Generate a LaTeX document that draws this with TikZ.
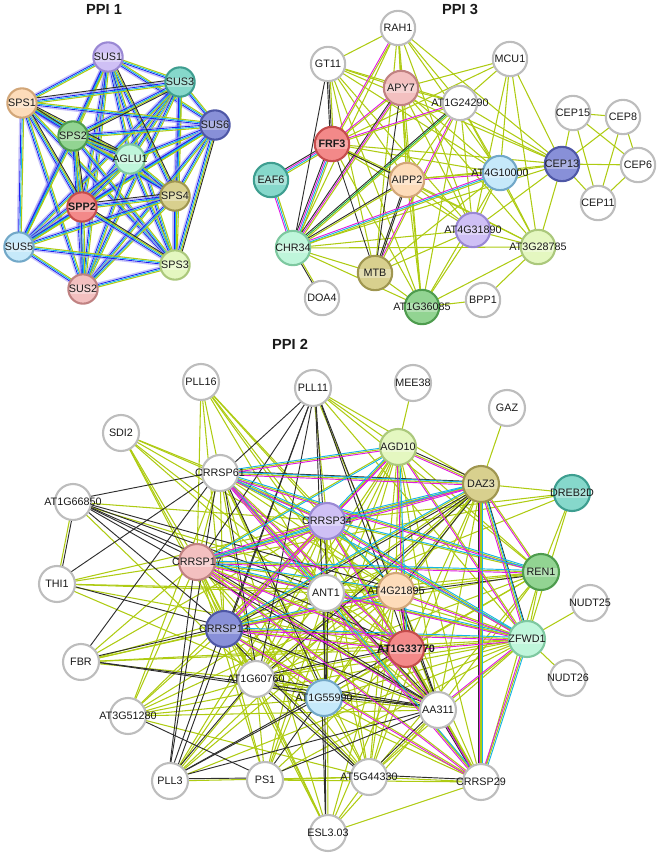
\documentclass[tikz,border=0pt]{standalone}
\usepackage{fontspec}
\setmainfont{Liberation Sans}
\usetikzlibrary{calc}
\pgfdeclarelayer{bg}
\pgfsetlayers{bg,main}
\definecolor{lavF}{HTML}{CFC0F5}\definecolor{lavD}{HTML}{9A88D4}
\definecolor{tealF}{HTML}{86D8CB}\definecolor{tealD}{HTML}{3E9E90}
\definecolor{peachF}{HTML}{FDDCBA}\definecolor{peachD}{HTML}{D2A678}
\definecolor{slateF}{HTML}{8890D8}\definecolor{slateD}{HTML}{4E57A6}
\definecolor{greenF}{HTML}{92D492}\definecolor{greenD}{HTML}{4E9C4E}
\definecolor{mintF}{HTML}{BFF6DB}\definecolor{mintD}{HTML}{7EC8A0}
\definecolor{khakiF}{HTML}{D8D08E}\definecolor{khakiD}{HTML}{9F9650}
\definecolor{redF}{HTML}{F38989}\definecolor{redD}{HTML}{C54C4C}
\definecolor{lblueF}{HTML}{C6E9FA}\definecolor{lblueD}{HTML}{72A8C8}
\definecolor{ygF}{HTML}{E4F7C0}\definecolor{ygD}{HTML}{ABC87C}
\definecolor{pinkF}{HTML}{F3C0C0}\definecolor{pinkD}{HTML}{C08282}
\definecolor{whD}{HTML}{BDBDBD}
\definecolor{limeC}{HTML}{AECB12}
\definecolor{magC}{HTML}{E01AE0}
\definecolor{cyC}{HTML}{15B5E5}
\definecolor{bkC}{HTML}{2E2E2E}
\definecolor{blC}{HTML}{1F1FF0}
\definecolor{lvC}{HTML}{A59CF5}
\definecolor{grC}{HTML}{1AAF3A}
\definecolor{txt}{HTML}{1A1A1A}
\tikzset{
  gn/.style={circle, draw=whD, fill=white, line width=1.8pt, inner sep=0pt,
    font=\fontsize{9.2}{10}\selectfont, text=txt},
  s1/.style={minimum size=0.88cm},
  s3/.style={minimum size=1.03cm},
  s2/.style={minimum size=1.08cm},
  gloss/.style={path picture={\fill[white,opacity=0.3]
     ([yshift=-4pt]path picture bounding box.west) rectangle
     ([yshift=3pt]path picture bounding box.east);}},
  cW/.style={fill=white, draw=whD},
  cLav/.style={fill=lavF, draw=lavD, gloss},
  cTeal/.style={fill=tealF, draw=tealD, gloss},
  cPeach/.style={fill=peachF, draw=peachD, gloss},
  cSlate/.style={fill=slateF, draw=slateD, gloss},
  cGreen/.style={fill=greenF, draw=greenD, gloss},
  cMint/.style={fill=mintF, draw=mintD, gloss},
  cKhaki/.style={fill=khakiF, draw=khakiD, gloss},
  cRed/.style={fill=redF, draw=redD, gloss},
  cLblue/.style={fill=lblueF, draw=lblueD, gloss},
  cYg/.style={fill=ygF, draw=ygD, gloss},
  cPink/.style={fill=pinkF, draw=pinkD, gloss},
  lm/.style={draw=limeC, line width=0.9pt},
  mg/.style={draw=magC, line width=0.8pt},
  cy/.style={draw=cyC, line width=0.8pt},
  bk/.style={draw=bkC, line width=0.8pt},
  bl/.style={draw=blC, line width=0.75pt},
  lv/.style={draw=lvC, line width=1.1pt, opacity=0.6},
  gr/.style={draw=grC, line width=0.8pt},
  ttl/.style={font=\bfseries\fontsize{12.5}{14}\selectfont, text=txt}
}
\newcommand\nd[5]{\node[gn,#1,#2] (#3) at (#4) {\makebox[0pt]{#5}};}
\newcommand\bund[3]{\foreach \ofs/\ecol in {#3}{%
  \draw[\ecol] ($(#1.center)!\ofs pt!90:(#2.center)$) -- ($(#2.center)!\ofs pt!-90:(#1.center)$);}}
\begin{document}
\begin{tikzpicture}[x=0.03cm,y=-0.03cm]
\useasboundingbox (0,0) rectangle (661,856);
% titles
\node[ttl] (t1) at (104,9) {PPI 1};
\node[ttl] (t3) at (460,9) {PPI 3};
\node[ttl] (t2) at (290,344) {PPI 2};
% ---------- PPI 1 nodes
\nd{cLav}{s1}{SUS1}{108,57}{SUS1}
\nd{cTeal}{s1}{SUS3}{180,82}{SUS3}
\nd{cPeach}{s1}{SPS1}{22,103}{SPS1}
\nd{cSlate}{s1}{SUS6}{215,125}{SUS6}
\nd{cGreen}{s1}{SPS2}{73,136}{SPS2}
\nd{cMint}{s1}{AGLU1}{130,159}{AGLU1}
\nd{cKhaki}{s1}{SPS4}{175,196}{SPS4}
\nd{cRed}{s1}{SPP2}{82,207}{\textbf{SPP2}}
\nd{cLblue}{s1}{SUS5}{19,247}{SUS5}
\nd{cYg}{s1}{SPS3}{175,265}{SPS3}
\nd{cPink}{s1}{SUS2}{83,289}{SUS2}
% ---------- PPI 3 nodes
\nd{cW}{s3}{RAH1}{398,28}{RAH1}
\nd{cW}{s3}{GT11}{328,64}{GT11}
\nd{cW}{s3}{MCU1}{510,59}{MCU1}
\nd{cPink}{s3}{APY7}{401,88}{APY7}
\nd{cW}{s3}{AT1G24290}{460,103}{AT1G24290}
\nd{cW}{s3}{CEP15}{573,113}{CEP15}
\nd{cW}{s3}{CEP8}{623,117}{CEP8}
\nd{cRed}{s3}{FRF3}{332,144}{\textbf{FRF3}}
\nd{cTeal}{s3}{EAF6}{271,180}{EAF6}
\nd{cPeach}{s3}{AIPP2}{407,180}{AIPP2}
\nd{cLblue}{s3}{AT4G10000}{500,173}{AT4G10000}
\nd{cSlate}{s3}{CEP13}{562,164}{CEP13}
\nd{cW}{s3}{CEP6}{638,165}{CEP6}
\nd{cW}{s3}{CEP11}{598,203}{CEP11}
\nd{cLav}{s3}{AT4G31890}{473,230}{AT4G31890}
\nd{cYg}{s3}{AT3G28785}{538,247}{AT3G28785}
\nd{cMint}{s3}{CHR34}{293,248}{CHR34}
\nd{cKhaki}{s3}{MTB}{375,273}{MTB}
\nd{cW}{s3}{DOA4}{322,298}{DOA4}
\nd{cGreen}{s3}{AT1G36085}{422,307}{AT1G36085}
\nd{cW}{s3}{BPP1}{483,300}{BPP1}
% ---------- PPI 2 nodes
\nd{cW}{s2}{PLL16}{201,382}{PLL16}
\nd{cW}{s2}{PLL11}{313,388}{PLL11}
\nd{cW}{s2}{SDI2}{121,433}{SDI2}
\nd{cW}{s2}{MEE38}{413,383}{MEE38}
\nd{cW}{s2}{GAZ}{507,408}{GAZ}
\nd{cYg}{s2}{AGD10}{398,447}{AGD10}
\nd{cW}{s2}{CRRSP61}{220,473}{CRRSP61}
\nd{cKhaki}{s2}{DAZ3}{481,484}{DAZ3}
\nd{cTeal}{s2}{DREB2D}{572,493}{DREB2D}
\nd{cW}{s2}{AT1G66850}{73,502}{AT1G66850}
\nd{cLav}{s2}{CRRSP34}{327,521}{CRRSP34}
\nd{cPink}{s2}{CRRSP17}{197,562}{CRRSP17}
\nd{cGreen}{s2}{REN1}{541,572}{REN1}
\nd{cW}{s2}{THI1}{57,584}{THI1}
\nd{cW}{s2}{ANT1}{326,593}{ANT1}
\nd{cPeach}{s2}{AT4G21895}{396,591}{AT4G21895}
\nd{cW}{s2}{NUDT25}{590,603}{NUDT25}
\nd{cSlate}{s2}{CRRSP13}{224,629}{CRRSP13}
\nd{cMint}{s2}{ZFWD1}{527,639}{ZFWD1}
\nd{cRed}{s2}{AT1G33770}{406,649}{\textbf{AT1G33770}}
\nd{cW}{s2}{FBR}{81,662}{FBR}
\nd{cW}{s2}{NUDT26}{568,678}{NUDT26}
\nd{cW}{s2}{AT1G60760}{256,679}{AT1G60760}
\nd{cLblue}{s2}{AT1G55990}{324,698}{AT1G55990}
\nd{cW}{s2}{AA311}{438,710}{AA311}
\nd{cW}{s2}{AT3G51280}{128,716}{AT3G51280}
\nd{cW}{s2}{AT5G44330}{369,777}{AT5G44330}
\nd{cW}{s2}{PS1}{265,780}{PS1}
\nd{cW}{s2}{PLL3}{170,781}{PLL3}
\nd{cW}{s2}{CRRSP29}{481,782}{CRRSP29}
\nd{cW}{s2}{ESL303}{328,833}{ESL3.03}
% ================= EDGES
\begin{pgfonlayer}{bg}
% ---- PPI 1 : complete graph, multi-evidence bundles
\foreach \a [count=\i] in {SUS1,SUS3,SPS1,SUS6,SPS2,AGLU1,SPS4,SPP2,SUS5,SPS3,SUS2}{
  \foreach \b [count=\j] in {SUS1,SUS3,SPS1,SUS6,SPS2,AGLU1,SPS4,SPP2,SUS5,SPS3,SUS2}{
    \ifnum\j>\i \bund{\a}{\b}{-1.65/lv,-0.55/bl,0.55/cy,1.65/lm}\fi}}
\foreach \a/\b in {SPS1/SUS3,SPS1/SPS2,SPS2/AGLU1,SPS2/SPP2,SPS1/SPP2,SPP2/SPS4,
  SPP2/SPS3,SUS6/SPS3,SUS3/SPS2,SUS1/SPS4,SPS1/AGLU1}{\bund{\a}{\b}{2.75/bk}}
% ---- PPI 3 : text-mining (lime) edges
\foreach \a/\b in {RAH1/GT11,RAH1/APY7,RAH1/AT1G24290,RAH1/AIPP2,RAH1/MTB,RAH1/AT4G10000,
  RAH1/AT4G31890,RAH1/CEP13,RAH1/AT1G36085,RAH1/CHR34,
  GT11/APY7,GT11/AT1G24290,GT11/AIPP2,GT11/CEP13,GT11/AT4G10000,GT11/AT4G31890,GT11/MTB,GT11/AT1G36085,
  MCU1/AT1G24290,MCU1/APY7,MCU1/FRF3,MCU1/CEP13,MCU1/AT4G10000,MCU1/AT4G31890,MCU1/AT3G28785,
  APY7/AIPP2,APY7/AT1G24290,APY7/AT4G10000,APY7/CEP13,APY7/AT4G31890,APY7/AT3G28785,APY7/AT1G36085,
  AT1G24290/AIPP2,AT1G24290/AT4G10000,AT1G24290/CEP13,AT1G24290/AT4G31890,AT1G24290/AT3G28785,AT1G24290/AT1G36085,
  FRF3/AT4G10000,FRF3/CEP13,FRF3/AT4G31890,FRF3/AT3G28785,FRF3/AT1G36085,
  AIPP2/AT4G31890,AIPP2/AT3G28785,AIPP2/AT1G36085,AIPP2/CEP13,
  AT4G10000/CEP13,AT4G10000/AT4G31890,AT4G10000/AT3G28785,AT4G10000/MTB,AT4G10000/AT1G36085,
  CEP13/CEP15,CEP13/CEP8,CEP13/CEP6,CEP13/CEP11,CEP13/AT4G31890,CEP13/AT3G28785,CEP13/CHR34,
  CEP15/CEP8,CEP15/CEP11,CEP15/CEP6,CEP8/CEP11,CEP8/CEP6,CEP6/CEP11,
  AT4G31890/CHR34,AT4G31890/MTB,AT4G31890/AT1G36085,AT4G31890/AT3G28785,
  AT3G28785/BPP1,AT3G28785/CHR34,AT3G28785/AT1G36085,
  CHR34/MTB,CHR34/AT1G36085,MTB/AT1G36085,AT1G36085/BPP1}{\bund{\a}{\b}{0/lm}}
% ---- PPI 3 : multi-evidence edges
\bund{FRF3}{EAF6}{-1.95/bk,-0.65/mg,0.65/cy,1.95/lm}
\bund{FRF3}{CHR34}{-1.95/bk,-0.65/mg,0.65/cy,1.95/lm}
\bund{EAF6}{CHR34}{-1.3/mg,0/cy,1.3/lm}
\bund{GT11}{FRF3}{-1.3/bk,0/bk,1.3/lm}
\bund{GT11}{CHR34}{0/bk}
\bund{RAH1}{FRF3}{-0.65/mg,0.65/lm}
\bund{APY7}{FRF3}{-0.65/mg,0.65/lm}
\bund{APY7}{CHR34}{-1.3/bk,0/mg,1.3/lm}
\bund{APY7}{MTB}{0/bk}
\bund{AT1G24290}{FRF3}{-0.65/mg,0.65/lm}
\bund{AT1G24290}{CHR34}{-1.3/bk,0/gr,1.3/lm}
\bund{AT1G24290}{MTB}{-0.65/mg,0.65/lm}
\bund{FRF3}{AIPP2}{-0.65/bk,0.65/lm}
\bund{FRF3}{MTB}{0/bk}
\bund{AIPP2}{CHR34}{-0.65/bk,0.65/lm}
\bund{AIPP2}{MTB}{-0.65/bk,0.65/bk}
\bund{AIPP2}{AT4G10000}{-0.65/mg,0.65/lm}
\bund{AT4G10000}{CHR34}{-1.3/mg,0/cy,1.3/lm}
\bund{CHR34}{DOA4}{-0.65/bk,0.65/lm}
% ---- PPI 2 : lime, core complete
\foreach \a [count=\i] in {CRRSP61,CRRSP34,CRRSP17,ANT1,AT4G21895,CRRSP13,AT1G33770,AT1G60760,
    AT1G55990,AA311,AGD10,DAZ3,REN1,ZFWD1,CRRSP29,AT5G44330}{
  \foreach \b [count=\j] in {CRRSP61,CRRSP34,CRRSP17,ANT1,AT4G21895,CRRSP13,AT1G33770,AT1G60760,
    AT1G55990,AA311,AGD10,DAZ3,REN1,ZFWD1,CRRSP29,AT5G44330}{
    \ifnum\j>\i \bund{\a}{\b}{0/lm}\fi}}
% ---- PPI 2 : lime, peripheral
\foreach \a/\b in {PLL16/CRRSP61,PLL16/CRRSP34,PLL16/CRRSP17,PLL16/ANT1,PLL16/CRRSP13,PLL16/AT1G33770,
  PLL16/AT4G21895,PLL16/AA311,
  PLL11/CRRSP34,PLL11/AGD10,PLL11/DAZ3,PLL11/REN1,PLL11/AT4G21895,PLL11/ZFWD1,
  SDI2/CRRSP61,SDI2/CRRSP34,SDI2/CRRSP17,SDI2/ANT1,SDI2/CRRSP13,SDI2/AT1G60760,SDI2/AT4G21895,SDI2/AA311,
  MEE38/AGD10,GAZ/DAZ3,
  DREB2D/DAZ3,DREB2D/REN1,DREB2D/ZFWD1,DREB2D/CRRSP34,DREB2D/CRRSP17,DREB2D/ANT1,
  NUDT25/ZFWD1,NUDT26/ZFWD1,
  AT1G66850/CRRSP34,AT1G66850/THI1,AT1G66850/ZFWD1,AT1G66850/AT1G60760,
  THI1/CRRSP17,THI1/ANT1,THI1/CRRSP34,THI1/AT4G21895,THI1/AT1G55990,THI1/AT1G33770,
  FBR/CRRSP17,FBR/CRRSP13,FBR/ANT1,FBR/AT4G21895,FBR/AT1G33770,FBR/AT1G60760,FBR/CRRSP34,FBR/ZFWD1,
  AT3G51280/CRRSP34,AT3G51280/CRRSP17,AT3G51280/CRRSP13,AT3G51280/ANT1,AT3G51280/AT1G55990,
  AT3G51280/AA311,AT3G51280/AT1G60760,AT3G51280/ZFWD1,AT3G51280/AT4G21895,AT3G51280/CRRSP61,
  AT3G51280/AT5G44330,
  PLL3/CRRSP34,PLL3/ANT1,PLL3/AT4G21895,PLL3/ZFWD1,PLL3/DAZ3,PLL3/AGD10,PLL3/AT5G44330,
  PS1/CRRSP13,PS1/CRRSP17,PS1/ANT1,PS1/AT1G60760,PS1/AT1G33770,PS1/CRRSP34,PS1/ZFWD1,PS1/AGD10,
  PS1/CRRSP29,PS1/AT5G44330,
  ESL303/AT5G44330,ESL303/CRRSP13,ESL303/CRRSP17,ESL303/AT1G60760,ESL303/CRRSP34,ESL303/AT1G33770,
  ESL303/AA311,ESL303/CRRSP61,ESL303/AT4G21895,ESL303/CRRSP29}{\bund{\a}{\b}{0/lm}}
% ---- PPI 2 : co-expression (black)
\foreach \a/\b in {PLL11/CRRSP61,PLL11/CRRSP17,PLL11/CRRSP13,PLL11/ANT1,PLL11/AT1G60760,PLL11/AT1G55990,
  PLL11/AA311,PLL11/PLL3,PLL11/AT1G33770,
  AT1G66850/CRRSP61,AT1G66850/THI1,AT1G66850/CRRSP17,AT1G66850/ANT1,AT1G66850/CRRSP13,
  AT1G66850/AT1G33770,AT1G66850/AA311,AT1G66850/AT4G21895,
  THI1/CRRSP61,THI1/CRRSP13,
  FBR/CRRSP13,FBR/AT1G55990,FBR/AA311,FBR/CRRSP61,
  AT3G51280/PS1,
  PLL3/CRRSP61,PLL3/CRRSP17,PLL3/CRRSP13,PLL3/AT1G60760,PLL3/AT1G55990,PLL3/PS1,PLL3/AA311,PLL3/AT1G33770,
  PS1/AT1G55990,PS1/AA311,
  ESL303/AT1G55990,ESL303/ANT1,
  AT5G44330/CRRSP29,AT5G44330/AA311,AT5G44330/AT1G60760,AT5G44330/CRRSP13,
  CRRSP29/AA311,CRRSP29/AT1G33770,
  DAZ3/CRRSP13,DAZ3/ANT1,DAZ3/AT1G60760,DAZ3/ZFWD1,DAZ3/AT4G21895,
  CRRSP61/AT1G55990,CRRSP61/AT1G60760,CRRSP17/AA311,CRRSP13/AA311,ANT1/AT1G55990,ANT1/AA311,
  AT1G60760/AA311,AT1G55990/AA311,AT4G21895/AT1G33770,AT4G21895/AA311,AT1G60760/AT1G33770,
  REN1/AT4G21895,CRRSP61/DAZ3,AGD10/DAZ3,CRRSP29/DAZ3}{\bund{\a}{\b}{1.8/bk}}
% ---- PPI 2 : experiments (magenta) + databases (cyan)
\foreach \a/\b in {CRRSP61/CRRSP34,CRRSP61/AGD10,CRRSP61/DAZ3,CRRSP34/DAZ3,CRRSP34/AGD10,CRRSP17/DAZ3,
  CRRSP17/REN1,CRRSP17/ZFWD1,CRRSP13/ZFWD1,CRRSP13/AT4G21895,CRRSP34/CRRSP17,CRRSP34/ZFWD1,
  CRRSP61/REN1,DAZ3/ZFWD1,DAZ3/CRRSP29,ZFWD1/CRRSP29,CRRSP61/CRRSP29,AGD10/AT1G33770}{\bund{\a}{\b}{-1.2/mg,1.2/cy}}
\foreach \a/\b in {CRRSP61/AT1G33770,CRRSP61/AA311,CRRSP17/AA311,CRRSP13/AT1G33770,CRRSP13/AGD10,
  DAZ3/REN1,AGD10/ZFWD1,ZFWD1/AA311,CRRSP34/CRRSP13,CRRSP17/AT1G33770,AT4G21895/ZFWD1,AGD10/DAZ3,
  CRRSP17/CRRSP29,CRRSP13/CRRSP29,AT1G33770/ZFWD1,CRRSP34/CRRSP29}{\bund{\a}{\b}{-1.2/mg}}
\foreach \a/\b in {CRRSP34/REN1,CRRSP13/DAZ3,CRRSP34/AT4G21895,CRRSP61/ZFWD1,AGD10/CRRSP17,
  CRRSP17/AT4G21895}{\bund{\a}{\b}{1.2/cy}}
\end{pgfonlayer}
\end{tikzpicture}
\end{document}
